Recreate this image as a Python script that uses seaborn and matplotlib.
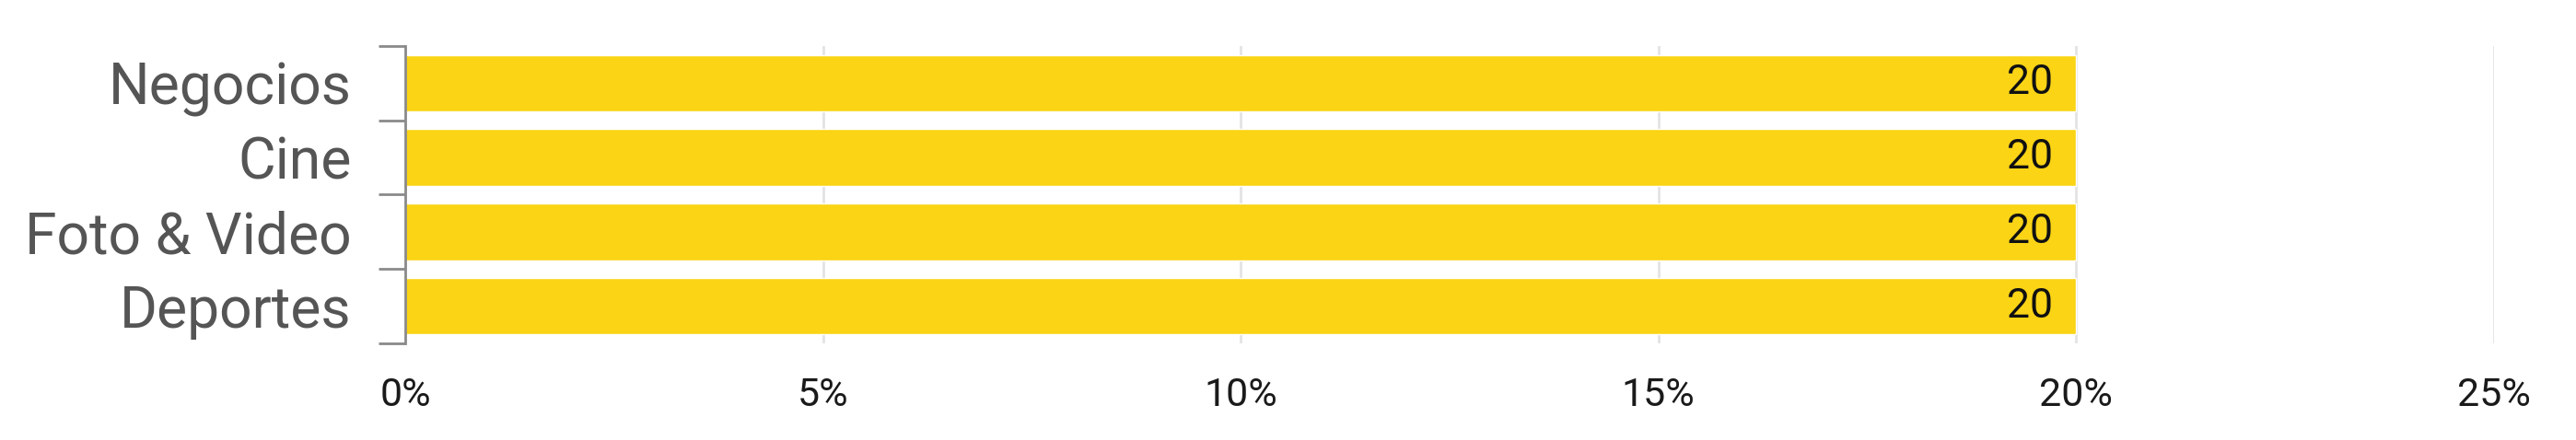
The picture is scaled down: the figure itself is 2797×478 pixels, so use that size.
# Horizontal bar chart: share per category
import matplotlib
matplotlib.use("Agg")
import matplotlib.pyplot as plt
from matplotlib.ticker import FixedLocator
import seaborn as sns

# ── DATA ──────────────────────────────────────────────
categories = ["Negocios", "Cine", "Foto & Video", "Deportes"]
values = [20, 20, 20, 20]
x_ticks = [0, 5, 10, 15, 20, 25]
x_tick_labels = ["0%", "5%", "10%", "15%", "20%", "25%"]

# ── STYLE ─────────────────────────────────────────────
sns.set_style("white")
plt.rcParams["font.family"] = ["Roboto", "DejaVu Sans"]

bar_color = "#FAD415"
grid_color = "#E3E3E3"
spine_color = "#8A8A8A"

fig = plt.figure(figsize=(27.97, 4.78), dpi=100)
ax = fig.add_axes([0.1573, 0.2197, 0.8108, 0.6757])

sns.barplot(x=values, y=categories, orient="h", color=bar_color,
            width=0.76, saturation=1, ax=ax)

# value labels inside the bar end
for cont in ax.containers:
    ax.bar_label(cont, labels=[str(v) for v in values], padding=-54,
                 fontsize=32, color="#111111")

ax.set_xlim(0, 25)
ax.set_ylim(3.5, -0.5)
ax.set_xticks(x_ticks)
ax.set_xticklabels(x_tick_labels)
ax.set_xlabel("")
ax.set_ylabel("")

# vertical gridlines
for xv in x_ticks[1:]:
    ax.axvline(xv, color=grid_color, lw=2, zorder=0)

# y ticks sit between categories, labels at centers
ax.yaxis.set_minor_locator(FixedLocator([-0.5, 0.5, 1.5, 2.5, 3.5]))
ax.tick_params(axis="y", which="minor", length=21, width=2,
               color=spine_color, left=True)
ax.tick_params(axis="y", which="major", length=0, pad=42,
               labelsize=45, labelcolor="#555555")
ax.tick_params(axis="x", length=0, pad=26, labelsize=31,
               labelcolor="#1A1A1A")

for side in ["top", "right", "bottom"]:
    ax.spines[side].set_visible(False)
ax.spines["left"].set_color(spine_color)
ax.spines["left"].set_linewidth(2)

plt.savefig("out.png", dpi=100)
plt.close()
